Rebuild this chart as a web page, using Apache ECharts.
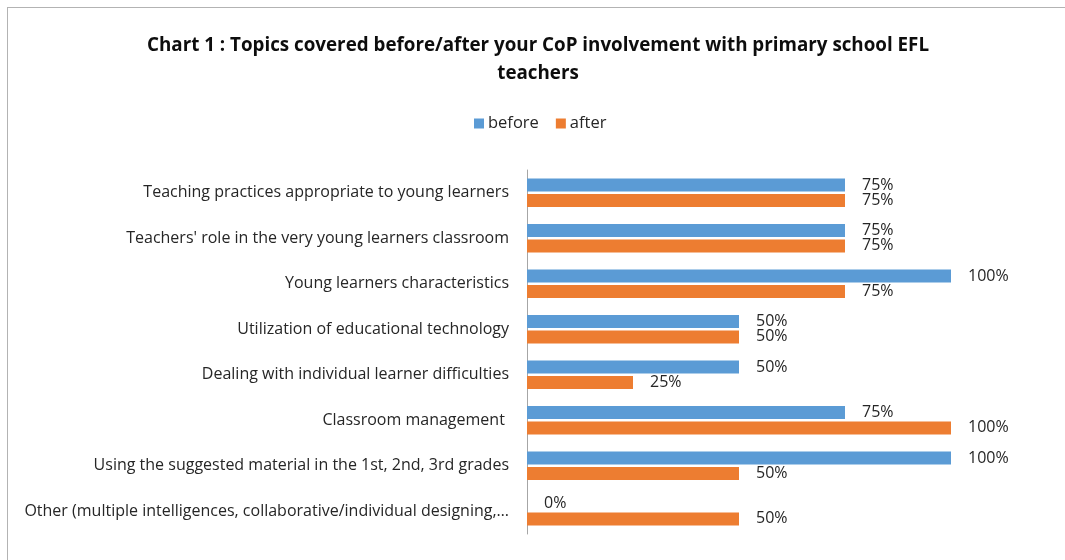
<!DOCTYPE html>
<html>
<head>
<meta charset="utf-8">
<title>Chart 1 : Topics covered before/after CoP involvement</title>
<script src="https://cdn.jsdelivr.net/npm/echarts@6/dist/echarts.min.js"></script>
<style>
  html, body { margin: 0; padding: 0; background: #ffffff; }
  #frame {
    position: absolute; left: 7px; top: 7px; width: 1100px; height: 600px;
    border-left: 1px solid #b3b3b3; border-top: 1px solid #b3b3b3;
    box-sizing: border-box;
  }
  #chart { position: absolute; left: 0; top: 0; width: 1065px; height: 560px; }
</style>
</head>
<body>
<div id="frame"></div>
<div id="chart"></div>
<script>
// Topics, listed top to bottom
const categories = [
  "Teaching practices appropriate to young learners",
  "Teachers' role in the very young learners classroom",
  "Young learners characteristics",
  "Utilization of educational technology",
  "Dealing with individual learner difficulties",
  "Classroom management ",
  "Using the suggested material in the 1st, 2nd, 3rd grades",
  "Other (multiple intelligences, collaborative/individual designing,\u2026"
];
// Share of teachers (%)
const beforeValues = [75, 75, 100, 50, 50, 75, 100, 0];
const afterValues  = [75, 75, 75, 50, 25, 100, 50, 50];

const FONT = '"Open Sans", Lato, sans-serif';

const labelStyle = {
  show: true,
  position: 'right',
  distance: 17,
  color: '#262626',
  fontFamily: FONT,
  fontSize: 16,
  formatter: p => p.value + '%'
};

const chart = echarts.init(document.getElementById('chart'), null, { renderer: 'canvas' });
chart.setOption({
  animation: false,
  backgroundColor: 'transparent',
  title: {
    text: 'Chart 1 : Topics covered before/after your CoP involvement with primary school EFL\nteachers',
    left: 533,
    textAlign: 'center',
    top: 27,
    textStyle: {
      fontFamily: FONT, fontWeight: 'bold', fontSize: 18.8, color: '#0d0d0d', lineHeight: 28
    }
  },
  legend: {
    data: ['before', 'after'],
    top: 110,
    left: 469,
    itemWidth: 10, itemHeight: 10, itemGap: 17,
    icon: 'rect',
    textStyle: { fontFamily: FONT, fontSize: 16.5, color: '#262626', padding: [0, 0, 0, -1] }
  },
  grid: { left: 527, right: 114, top: 170, bottom: 26, containLabel: false },
  xAxis: {
    type: 'value', min: 0, max: 100, show: false
  },
  yAxis: {
    type: 'category',
    data: categories,
    inverse: true,
    axisLine: { show: true, lineStyle: { color: '#a6a6a6', width: 1 } },
    axisTick: { show: false },
    axisLabel: { fontFamily: FONT, fontSize: 16, color: '#262626', margin: 18 }
  },
  series: [
    {
      name: 'before', type: 'bar', data: beforeValues,
      barWidth: 13, barGap: '18%',
      itemStyle: { color: '#5B9BD5' },
      label: labelStyle
    },
    {
      name: 'after', type: 'bar', data: afterValues,
      barWidth: 13, barGap: '18%',
      itemStyle: { color: '#ED7D31' },
      label: labelStyle
    }
  ]
});
</script>
</body>
</html>
